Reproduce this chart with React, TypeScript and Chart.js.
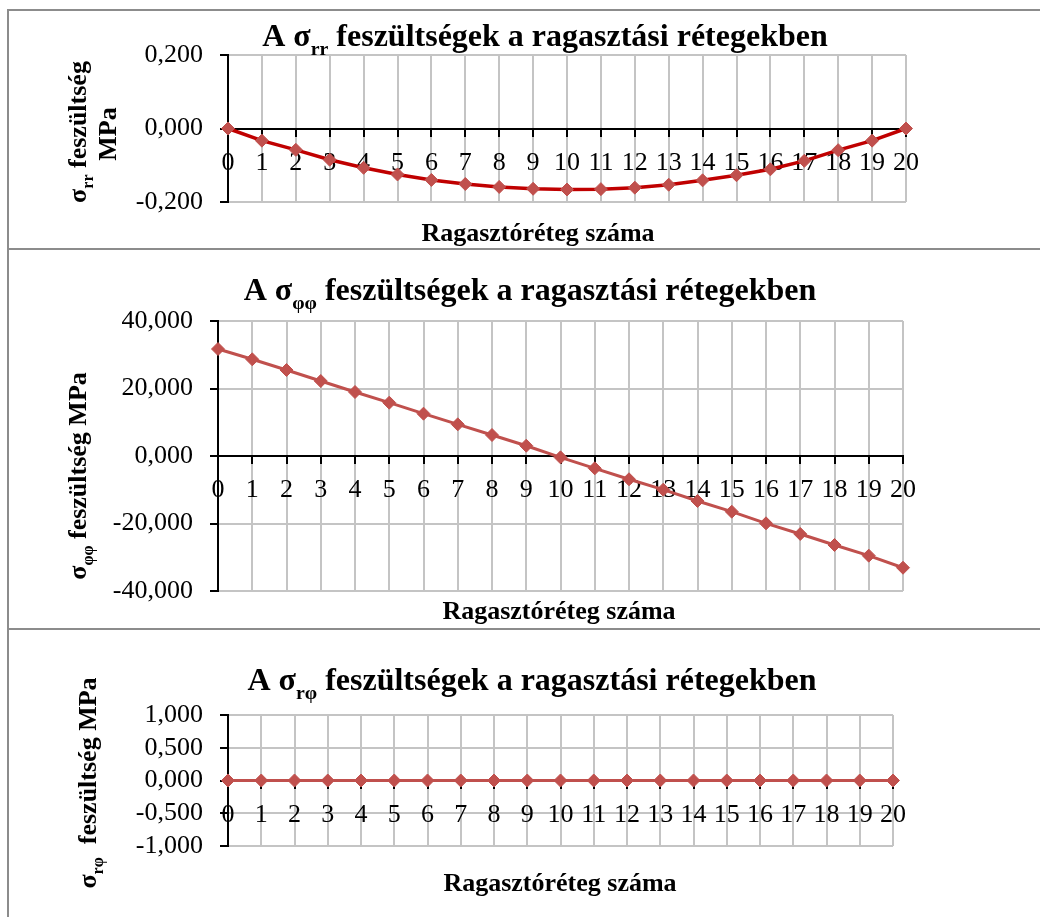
import React, { useEffect, useRef } from 'react';
import { Chart, registerables } from 'chart.js';

Chart.register(...registerables);

// ---------- data ----------
const layerLabels = ['0', '1', '2', '3', '4', '5', '6', '7', '8', '9', '10', '11', '12', '13', '14', '15', '16', '17', '18', '19', '20'];

const sigmaRR = [0, -0.033, -0.058, -0.085, -0.107, -0.125, -0.14, -0.151, -0.159, -0.164, -0.166, -0.165, -0.161, -0.153, -0.141, -0.127, -0.111, -0.088, -0.059, -0.033, 0];

const sigmaPhiPhi = [31.7, 28.65, 25.48, 22.22, 18.96, 15.8, 12.54, 9.38, 6.22, 3.05, -0.4, -3.65, -6.9, -9.98, -13.33, -16.5, -19.95, -23.1, -26.37, -29.53, -33.1];

const sigmaRPhi = [0, 0, 0, 0, 0, 0, 0, 0, 0, 0, 0, 0, 0, 0, 0, 0, 0, 0, 0, 0, 0];

const rrTicks = { min: -0.2, max: 0.2, step: 0.2 };
const ppTicks = { min: -40, max: 40, step: 20 };
const rpTicks = { min: -1, max: 1, step: 0.5 };

const xAxisTitle = 'Ragasztóréteg száma';

// ---------- text helpers ----------
const FONT = "'Liberation Serif', 'Times New Roman', serif";
type Seg = { t: string; sub?: boolean };
type TextItem = { segs: Seg[]; size: number; cx: number; cy: number; rotated?: boolean };

const SUB = 0.62;

function richWidth(ctx: CanvasRenderingContext2D, segs: Seg[], size: number) {
  let w = 0;
  for (const s of segs) {
    ctx.font = `bold ${s.sub ? size * SUB : size}px ${FONT}`;
    w += ctx.measureText(s.t).width;
  }
  return w;
}

function drawCentered(ctx: CanvasRenderingContext2D, item: TextItem, offsetY: number) {
  const { segs, size, cx, cy, rotated } = item;
  ctx.save();
  ctx.fillStyle = '#000';
  ctx.textBaseline = 'alphabetic';
  ctx.textAlign = 'left';
  ctx.translate(cx, cy - offsetY);
  if (rotated) ctx.rotate(-Math.PI / 2);
  const w = richWidth(ctx, segs, size);
  let x = -w / 2;
  const base = size * 0.33;
  for (const s of segs) {
    const sz = s.sub ? size * SUB : size;
    ctx.font = `bold ${sz}px ${FONT}`;
    ctx.fillText(s.t, x, s.sub ? base + size * 0.28 : base);
    x += ctx.measureText(s.t).width;
  }
  ctx.restore();
}

const fmt = (v: number) => {
  const n = Math.abs(v) < 1e-9 ? 0 : v;
  return n.toFixed(3).replace('.', ',');
};

type PanelCfg = {
  top: number;
  height: number;
  data: number[];
  ticks: { min: number; max: number; step: number };
  area: { left: number; right: number; top: number; bottom: number };
  lineColor: string;
  lineWidth: number;
  texts: TextItem[];
};

const titleRest = ' feszültségek a ragasztási rétegekben';

const panels: PanelCfg[] = [
  {
    top: 9,
    height: 240,
    data: sigmaRR,
    ticks: rrTicks,
    area: { left: 228, right: 906, top: 55, bottom: 202 },
    lineColor: '#C00000',
    lineWidth: 3.5,
    texts: [
      { segs: [{ t: 'A σ' }, { t: 'rr', sub: true }, { t: titleRest }], size: 32, cx: 545, cy: 35 },
      { segs: [{ t: xAxisTitle }], size: 26, cx: 538, cy: 232 },
      { segs: [{ t: 'σ' }, { t: 'rr', sub: true }, { t: ' feszültség' }], size: 26, cx: 77, cy: 132, rotated: true },
      { segs: [{ t: 'MPa' }], size: 26, cx: 107, cy: 134, rotated: true },
    ],
  },
  {
    top: 249,
    height: 380,
    data: sigmaPhiPhi,
    ticks: ppTicks,
    area: { left: 218, right: 903, top: 321, bottom: 591 },
    lineColor: '#C0504D',
    lineWidth: 3,
    texts: [
      { segs: [{ t: 'A σ' }, { t: 'φφ', sub: true }, { t: titleRest }], size: 32, cx: 530, cy: 289 },
      { segs: [{ t: xAxisTitle }], size: 26, cx: 559, cy: 610 },
      { segs: [{ t: 'σ' }, { t: 'φφ', sub: true }, { t: ' feszültség MPa' }], size: 26, cx: 77, cy: 476, rotated: true },
    ],
  },
  {
    top: 629,
    height: 288,
    data: sigmaRPhi,
    ticks: rpTicks,
    area: { left: 228, right: 893, top: 715, bottom: 846 },
    lineColor: '#C0504D',
    lineWidth: 3,
    texts: [
      { segs: [{ t: 'A σ' }, { t: 'rφ', sub: true }, { t: titleRest }], size: 32, cx: 532, cy: 679 },
      { segs: [{ t: xAxisTitle }], size: 26, cx: 560, cy: 882 },
      { segs: [{ t: 'σ' }, { t: 'rφ', sub: true }, { t: '  feszültség MPa' }], size: 26, cx: 87, cy: 783, rotated: true },
    ],
  },
];

const W = 1040;
const Y_WIDTH = 150;

function Panel({ cfg }: { cfg: PanelCfg }) {
  const ref = useRef<HTMLCanvasElement | null>(null);
  useEffect(() => {
    if (!ref.current) return;
    const textPlugin = {
      id: 'richText',
      afterDraw(chart: any) {
        const ctx = chart.ctx as CanvasRenderingContext2D;
        for (const t of cfg.texts) drawCentered(ctx, t, cfg.top);
      },
    };
    const chart = new Chart(ref.current, {
      type: 'line',
      data: {
        labels: layerLabels,
        datasets: [
          {
            data: cfg.data,
            borderColor: cfg.lineColor,
            borderWidth: cfg.lineWidth,
            backgroundColor: '#C0504D',
            pointBackgroundColor: '#C0504D',
            pointBorderColor: '#C0504D',
            pointBorderWidth: 1,
            pointStyle: 'rectRot',
            pointRadius: 6.5,
            tension: 0,
            clip: false as any,
          },
        ],
      },
      options: {
        responsive: false,
        animation: false,
        devicePixelRatio: 1,
        layout: {
          padding: {
            left: cfg.area.left - Y_WIDTH,
            right: W - cfg.area.right,
            top: cfg.area.top - cfg.top,
            bottom: cfg.top + cfg.height - cfg.area.bottom,
          },
        },
        plugins: {
          legend: { display: false },
          title: { display: false },
          tooltip: { enabled: false },
        },
        scales: {
          x: {
            type: 'category',
            position: { y: 0 } as any,
            offset: false,
            grid: { color: '#c4c4c4', lineWidth: 2, tickColor: '#000', tickLength: 7, drawOnChartArea: true },
            border: { color: '#000', width: 2 },
            ticks: {
              color: '#000',
              font: { family: FONT, size: 26 },
              padding: 12,
              maxRotation: 0,
              autoSkip: false,
            },
            afterFit: (s: any) => {
              s.paddingLeft = 0;
              s.paddingRight = 0;
            },
          },
          y: {
            type: 'linear',
            position: 'left',
            min: cfg.ticks.min,
            max: cfg.ticks.max,
            grid: { color: '#c4c4c4', lineWidth: 2, tickColor: '#000', tickLength: 8 },
            border: { color: '#000', width: 2 },
            ticks: {
              stepSize: cfg.ticks.step,
              autoSkip: false,
              color: '#000',
              font: { family: FONT, size: 26 },
              padding: 17,
              callback: (v: any) => fmt(Number(v)),
            },
            afterFit: (s: any) => {
              s.width = Y_WIDTH;
              s.paddingTop = 0;
              s.paddingBottom = 0;
            },
          },
        },
      },
      plugins: [textPlugin],
    } as any);
    return () => chart.destroy();
  }, [cfg]);
  return (
    <canvas
      ref={ref}
      width={W}
      height={cfg.height}
      style={{ position: 'absolute', left: 0, top: cfg.top, width: W, height: cfg.height, display: 'block' }}
    />
  );
}

const lineStyle = (s: React.CSSProperties): React.CSSProperties => ({
  position: 'absolute',
  background: '#8c8c8c',
  ...s,
});

export default function App() {
  return (
    <div style={{ position: 'absolute', left: 0, top: 0, width: W, height: 917, overflow: 'hidden', background: '#fff' }}>
      {panels.map((p, i) => (
        <Panel key={i} cfg={p} />
      ))}
      <div style={lineStyle({ left: 7, top: 9, width: 2, height: 917 - 9 })} />
      <div style={lineStyle({ left: 7, top: 9, width: W - 7, height: 2 })} />
      <div style={lineStyle({ left: 7, top: 248, width: W - 7, height: 2 })} />
      <div style={lineStyle({ left: 7, top: 628, width: W - 7, height: 2 })} />
    </div>
  );
}
